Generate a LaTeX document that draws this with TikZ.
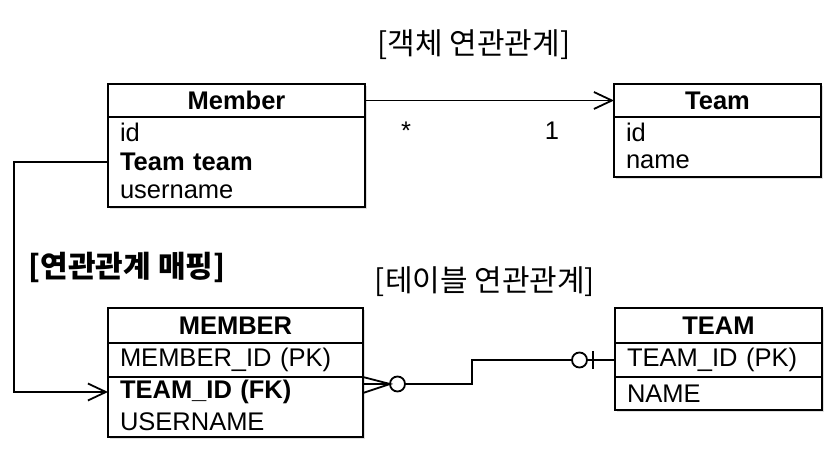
\documentclass[tikz,border=0pt]{standalone}
\usepackage{fontspec}
\setmainfont{Liberation Sans}
\newfontfamily\krfont{Noto Sans CJK KR}
\usepackage{tikz}
\usetikzlibrary{arrows.meta, positioning, calc, shadows}

\begin{document}
\begin{tikzpicture}[
  x=1pt, y=-1pt,
  font=\fontsize{25.5pt}{29pt}\selectfont,
  tablehead/.style={rectangle, draw=black, line width=1.8pt, fill=white,
              minimum width=#1, minimum height=33pt, inner sep=0pt, outer sep=0pt,
              font=\fontsize{25.5pt}{29pt}\selectfont\bfseries,
              drop shadow={shadow xshift=2pt, shadow yshift=-2pt, fill=black!25}},
  tablebody/.style={rectangle, draw=black, line width=1.8pt, fill=white,
              minimum width=#1, inner sep=0pt, outer sep=0pt,
              drop shadow={shadow xshift=2pt, shadow yshift=-2pt, fill=black!25}},
  trow/.style={rectangle, text width=#1, inner xsep=12pt, inner ysep=0pt,
              outer sep=0pt, minimum height=30pt, align=left},
  tcell/.style={trow=#1, draw=black, line width=1.8pt, fill=white,
              drop shadow={shadow xshift=2pt, shadow yshift=-2pt, fill=black!25}},
  title/.style={font=\krfont\fontsize{30pt}{34pt}\selectfont},
  ercircle/.style={circle, draw=black, line width=1.8pt, fill=white,
              minimum size=15pt, inner sep=0pt, outer sep=0pt},
  conn/.style={line width=1.8pt},
  arrow/.style={-{Straight Barb[length=18pt, width=17pt, line width=1.8pt]}, line width=1.8pt}
]
\useasboundingbox (0,0) rectangle (839,454);

% object model
\node[tablehead=257pt] (memberhead) at (236.5,100.5) {Member};
\node[tablebody=257pt, minimum height=90pt, below=0pt of memberhead] (memberbody) {};
\node[trow=233pt, anchor=north west] (memberid) at (memberbody.north west) {id};
\node[trow=233pt, below=0pt of memberid] (memberteam) {\bfseries Team team};
\node[trow=233pt, below=0pt of memberteam] (membername) {username};

\node[tablehead=207pt] (teamhead) at (717.5,100.5) {Team};
\node[tablebody=207pt, minimum height=60pt, below=0pt of teamhead] (teambody) {};
\node[trow=183pt, anchor=north west] (teamid) at (teambody.north west) {id};
\node[trow=183pt, below=0pt of teamid] (teamname) {name};

% table model
\node[tablehead=255pt, minimum height=35pt] (MEMBERhead) at (235.5,325.5) {MEMBER};
\node[tcell=231pt, minimum height=34pt, below=0pt of MEMBERhead] (MEMBERpk) {MEMBER\_ID (PK)};
\node[tablebody=255pt, minimum height=60pt, below=0pt of MEMBERpk] (MEMBERrest) {};
\node[trow=231pt, anchor=north west] (MEMBERfk) at (MEMBERrest.north west) {\bfseries TEAM\_ID (FK)};
\node[trow=231pt, below=0pt of MEMBERfk] (MEMBERname) {USERNAME};

\node[tablehead=207pt, minimum height=35pt] (TEAMhead) at (718.5,325.5) {TEAM};
\node[tcell=183pt, minimum height=34pt, below=0pt of TEAMhead] (TEAMpk) {TEAM\_ID (PK)};
\node[tcell=183pt, minimum height=33pt, below=0pt of TEAMpk] (TEAMname) {NAME};

% titles
\node[title] (objtitle) at (474,45) {[객체 연관관계]};
\node[title] (maptitle) at (127,267) {\bfseries [연관관계 매핑]};
\node[title] (tabletitle) at (485,282) {[테이블 연관관계]};

% object reference
\draw[arrow] (memberhead.east) -- (teamhead.west);
\node[anchor=base] (manylabel) at (406,140) {*};
\node[anchor=base] (onelabel) at (552,140) {1};

% mapping
\draw[arrow] (memberteam.west) -- ++(-94,0) |- (MEMBERfk.west);

% foreign key
\coordinate (fkport) at ($(MEMBERrest.north east)+(0,7)$);
\coordinate (pkport) at (TEAMpk.west);
\node[ercircle, right=27pt of fkport] (manyring) {};
\node[ercircle, left=28pt of pkport] (onering) {};
\draw[conn] ($(fkport)+(0,-7)$) -- (manyring.west) -- ($(fkport)+(0,9)$);
\draw[conn] (fkport) -- (manyring.west);
\draw[conn] (manyring.east) -- ++(67,0) |- (onering.west);
\draw[conn] (onering.east) -- (pkport);
\draw[conn] ($(pkport)+(-22,-9)$) -- ++(0,18);

\end{tikzpicture}
\end{document}
